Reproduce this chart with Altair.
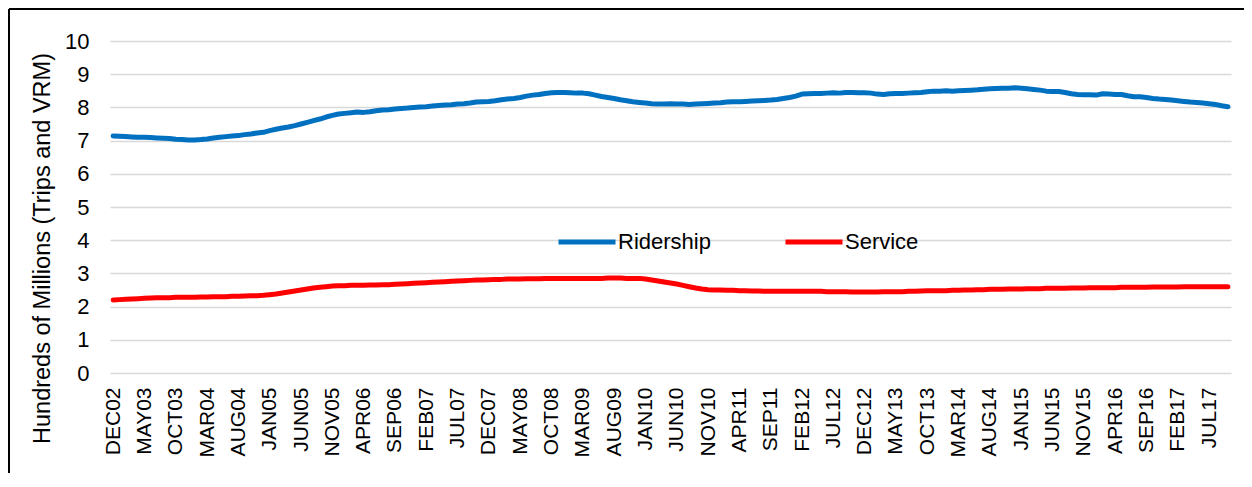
import altair as alt
import pandas as pd

MONTHS = ["JAN", "FEB", "MAR", "APR", "MAY", "JUN", "JUL", "AUG", "SEP", "OCT", "NOV", "DEC"]
month_labels = ["DEC02"] + [f"{m}{y:02d}" for y in range(3, 18) for m in MONTHS][:178]

tick_labels = ["DEC02", "MAY03", "OCT03", "MAR04", "AUG04", "JAN05", "JUN05", "NOV05",
               "APR06", "SEP06", "FEB07", "JUL07", "DEC07", "MAY08", "OCT08", "MAR09",
               "AUG09", "JAN10", "JUN10", "NOV10", "APR11", "SEP11", "FEB12", "JUL12",
               "DEC12", "MAY13", "OCT13", "MAR14", "AUG14", "JAN15", "JUN15", "NOV15",
               "APR16", "SEP16", "FEB17", "JUL17"]

ridership = [
    7.14,
    7.13, 7.12, 7.11, 7.10, 7.10, 7.09, 7.08, 7.07, 7.06, 7.04, 7.03, 7.02,
    7.02, 7.03, 7.05, 7.08, 7.10, 7.12, 7.14, 7.15, 7.18, 7.20, 7.23, 7.25,
    7.30, 7.34, 7.38, 7.41, 7.45, 7.50, 7.55, 7.60, 7.65, 7.71, 7.76, 7.80,
    7.82, 7.84, 7.86, 7.85, 7.87, 7.90, 7.92, 7.93, 7.95, 7.97, 7.98, 8.00,
    8.01, 8.02, 8.04, 8.06, 8.07, 8.08, 8.10, 8.11, 8.13, 8.16, 8.17, 8.18,
    8.20, 8.23, 8.25, 8.27, 8.30, 8.34, 8.37, 8.39, 8.42, 8.44, 8.45, 8.45,
    8.44, 8.43, 8.43, 8.41, 8.37, 8.33, 8.30, 8.27, 8.23, 8.20, 8.17, 8.15,
    8.13, 8.11, 8.10, 8.10, 8.11, 8.10, 8.10, 8.09, 8.10, 8.11, 8.12, 8.13,
    8.14, 8.16, 8.17, 8.17, 8.18, 8.19, 8.20, 8.21, 8.22, 8.24, 8.27, 8.30,
    8.34, 8.40, 8.41, 8.42, 8.42, 8.43, 8.44, 8.43, 8.45, 8.45, 8.44, 8.44,
    8.43, 8.40, 8.39, 8.41, 8.42, 8.42, 8.43, 8.44, 8.45, 8.47, 8.49, 8.49,
    8.50, 8.49, 8.50, 8.51, 8.52, 8.53, 8.55, 8.56, 8.57, 8.58, 8.58, 8.59,
    8.58, 8.56, 8.54, 8.52, 8.49, 8.48, 8.48, 8.45, 8.41, 8.39, 8.38, 8.38,
    8.37, 8.41, 8.40, 8.39, 8.39, 8.35, 8.32, 8.32, 8.30, 8.27, 8.25, 8.24,
    8.22, 8.20, 8.18, 8.16, 8.15, 8.13, 8.11, 8.09, 8.05, 8.02,
]

service = [
    2.20,
    2.21, 2.22, 2.23, 2.24, 2.25, 2.26, 2.27, 2.27, 2.27, 2.28, 2.28, 2.28,
    2.28, 2.29, 2.29, 2.30, 2.30, 2.30, 2.31, 2.31, 2.32, 2.33, 2.33, 2.34,
    2.36, 2.38, 2.41, 2.44, 2.47, 2.50, 2.53, 2.56, 2.58, 2.60, 2.62, 2.63,
    2.63, 2.64, 2.64, 2.64, 2.65, 2.65, 2.66, 2.66, 2.67, 2.68, 2.69, 2.70,
    2.71, 2.72, 2.73, 2.74, 2.75, 2.76, 2.77, 2.78, 2.79, 2.80, 2.80, 2.81,
    2.82, 2.82, 2.83, 2.83, 2.83, 2.84, 2.84, 2.84, 2.85, 2.85, 2.85, 2.85,
    2.85, 2.85, 2.85, 2.85, 2.85, 2.85, 2.86, 2.86, 2.86, 2.85, 2.85, 2.85,
    2.83, 2.80, 2.77, 2.74, 2.71, 2.68, 2.64, 2.60, 2.56, 2.53, 2.51, 2.50,
    2.50, 2.49, 2.49, 2.48, 2.48, 2.47, 2.47, 2.46, 2.46, 2.46, 2.46, 2.46,
    2.46, 2.46, 2.46, 2.46, 2.46, 2.45, 2.45, 2.45, 2.45, 2.44, 2.44, 2.44,
    2.44, 2.44, 2.45, 2.45, 2.45, 2.45, 2.46, 2.46, 2.47, 2.48, 2.48, 2.48,
    2.48, 2.49, 2.49, 2.50, 2.50, 2.51, 2.51, 2.52, 2.52, 2.52, 2.53, 2.53,
    2.53, 2.54, 2.54, 2.54, 2.55, 2.55, 2.55, 2.55, 2.56, 2.56, 2.56, 2.57,
    2.57, 2.57, 2.57, 2.57, 2.58, 2.58, 2.58, 2.58, 2.58, 2.59, 2.59, 2.59,
    2.59, 2.59, 2.60, 2.60, 2.60, 2.60, 2.60, 2.60, 2.60, 2.60,
]

series_names = ["Ridership", "Service"]
series_colors = ["#0070C0", "#FF0000"]

rows = []
for name, vals in zip(series_names, [ridership, service]):
    for i, (m, v) in enumerate(zip(month_labels, vals)):
        rows.append({"month": m, "idx": i, "value": v, "series": name})
df = pd.DataFrame(rows)

FONT = "Liberation Sans"

lines = alt.Chart(df).mark_line(strokeWidth=5, strokeCap="round", strokeJoin="round").encode(
    x=alt.X("month:N", sort=month_labels,
            scale=alt.Scale(type="point", padding=0.5),
            axis=alt.Axis(values=tick_labels, title=None, labelAngle=270,
                          labelFontSize=21, labelFont=FONT, labelColor="#000000",
                          labelPadding=14, ticks=False, tickSize=0, domain=False,
                          grid=False, labelOverlap=False, labelFlush=False)),
    y=alt.Y("value:Q", scale=alt.Scale(domain=[0, 10], nice=False),
            axis=alt.Axis(values=list(range(0, 11)), title="Hundreds of Millions (Trips and VRM)",
                          labelFontSize=22, labelFont=FONT, labelColor="#000000",
                          labelPadding=21, ticks=False, tickSize=0, domain=False,
                          gridColor="#D9D9D9", gridWidth=1.5,
                          titleFontSize=23.5, titleFont=FONT, titleFontWeight="normal",
                          titleColor="#000000", titleAngle=270, titleX=-68, titleY=207,
                          titleAlign="center", titleBaseline="middle")),
    color=alt.Color("series:N", scale=alt.Scale(domain=series_names, range=series_colors),
                    legend=alt.Legend(title=None, orient="none", direction="horizontal",
                                      legendX=446, legendY=170,
                                      symbolType="stroke", symbolSize=3249,
                                      symbolStrokeWidth=5, labelOffset=0,
                                      labelFontSize=22, labelFont=FONT, labelColor="#000000",
                                      columnPadding=64)),
    order=alt.Order("idx:Q"),
)

frame_top = alt.Chart(alt.Data(values=[{}])).mark_rule(color="#000000", strokeWidth=2).encode(
    x=alt.value(-101), x2=alt.value(1140), y=alt.value(-32))
frame_left = alt.Chart(alt.Data(values=[{}])).mark_rule(color="#000000", strokeWidth=2).encode(
    x=alt.value(-101), y=alt.value(-32), y2=alt.value(440))

chart = alt.layer(lines, frame_top, frame_left).properties(
    width=1121, height=332,
    autosize=alt.AutoSizeParams(type="none"),
    padding={"left": 102, "top": 33, "right": 13, "bottom": 100},
    background="#FFFFFF",
).configure_view(strokeWidth=0)

chart.save("out.html", embed_options={"renderer": "svg", "actions": False})
